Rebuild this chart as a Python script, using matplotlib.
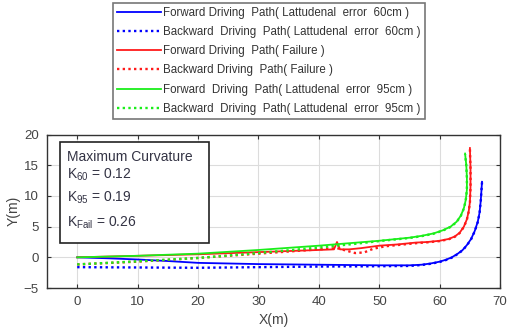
import matplotlib
matplotlib.use("Agg")
import matplotlib.pyplot as plt
import numpy as np
from matplotlib.patches import Rectangle

plt.rcParams['font.family'] = ['Liberation Sans', 'DejaVu Sans']
plt.rcParams['mathtext.fontset'] = 'custom'
plt.rcParams['mathtext.rm'] = 'Liberation Sans'
plt.rcParams['mathtext.it'] = 'Liberation Sans'

# Forward 60cm (blue solid)
bf_x = [0, 5, 10, 15, 20, 30, 40, 50, 55, 57, 58.5, 60, 61, 62, 63, 63.8, 64.5, 65.2, 65.8, 66.3, 66.6, 66.8, 67.0]
bf_y = [0, -0.15, -0.35, -0.6, -0.9, -1.1, -1.2, -1.3, -1.3, -1.2, -1.0, -0.7, -0.4, 0.0, 0.6, 1.2, 2.0, 3.0, 4.3, 5.8, 7.3, 9.3, 12.3]
# Backward 60cm (blue dotted)
bb_x = [0, 10, 20, 30, 40, 50, 55, 57, 58.5, 60, 61, 62, 63, 63.8, 64.5, 65.2, 65.8, 66.3, 66.6, 66.8, 67.0]
bb_y = [-1.6, -1.65, -1.7, -1.6, -1.5, -1.45, -1.4, -1.25, -1.05, -0.75, -0.45, -0.05, 0.55, 1.15, 1.95, 2.95, 4.25, 5.75, 7.25, 9.25, 12.2]
# Forward failure (red solid)
rf_x = [0, 10, 20, 30, 40, 42.5, 43, 43.5, 45, 47, 50, 53, 56, 58, 60, 61.5, 62.5, 63.3, 64.0, 64.5, 64.8, 65.0, 65.1, 65.1, 65.0]
rf_y = [0, 0.25, 0.5, 0.85, 1.2, 1.3, 2.5, 1.3, 1.3, 1.5, 1.9, 2.1, 2.4, 2.5, 2.7, 3.0, 3.4, 4.0, 5.0, 6.2, 7.5, 9.0, 11.5, 14.5, 17.8]
# Backward failure (red dotted)
rb_x = [0, 10, 20, 30, 40, 43, 44.5, 46, 47.5, 49, 51, 53, 56, 58, 60, 61.5, 62.5, 63.3, 64.0, 64.5, 64.8, 65.0, 65.1, 65.1, 65.0]
rb_y = [-1.15, -0.7, -0.1, 0.6, 1.3, 1.5, 1.1, 0.7, 0.8, 1.4, 1.8, 2.0, 2.3, 2.45, 2.65, 2.95, 3.35, 3.95, 4.95, 6.15, 7.45, 8.95, 11.4, 14.4, 17.6]
# Forward 95cm (green solid)
gf_x = [0, 10, 20, 30, 40, 50, 55, 57, 59, 60.5, 61.8, 62.8, 63.5, 64.0, 64.3, 64.5, 64.5, 64.4, 64.2]
gf_y = [0, 0.25, 0.6, 1.2, 1.9, 2.7, 3.2, 3.5, 3.9, 4.4, 5.0, 5.8, 6.8, 8.0, 9.3, 11.0, 13.0, 15.0, 16.9]
# Backward 95cm (green dotted)
gb_x = [0, 10, 20, 30, 40, 46, 50, 55, 57, 59, 60.5, 61.8, 62.8, 63.5, 64.0, 64.3, 64.5, 64.5, 64.4, 64.2]
gb_y = [-1.15, -0.65, -0.1, 0.7, 1.6, 2.2, 2.65, 3.15, 3.45, 3.85, 4.35, 4.95, 5.75, 6.75, 7.95, 9.25, 10.95, 12.95, 14.95, 16.8]

labels = ["Forward Driving  Path( Lattudenal  error  60cm )",
          "Backward  Driving  Path( Lattudenal  error  60cm )",
          "Forward Driving  Path( Failure )",
          "Backward Driving  Path( Failure )",
          "Forward  Driving  Path( Lattudenal  error  95cm )",
          "Backward  Driving  Path( Lattudenal  error  95cm )"]

x_ticks = [0, 10, 20, 30, 40, 50, 60, 70]
y_ticks = [-5, 0, 5, 10, 15, 20]

fig = plt.figure(figsize=(5.08, 3.33), dpi=100)
ax = fig.add_axes([0.0925, 0.135, 0.892, 0.461])

dot = (0, (1, 1.4))
blue, red, green = '#0000ff', '#ff1a1a', '#1aee1a'
h = []
h += ax.plot(bf_x, bf_y, color=blue, lw=1.3, label=labels[0])
h += ax.plot(bb_x, bb_y, color=blue, lw=1.7, ls=dot, label=labels[1])
h += ax.plot(rf_x, rf_y, color=red, lw=1.3, label=labels[2])
h += ax.plot(rb_x, rb_y, color=red, lw=1.7, ls=dot, label=labels[3])
h += ax.plot(gf_x, gf_y, color=green, lw=1.3, label=labels[4])
h += ax.plot(gb_x, gb_y, color=green, lw=1.7, ls=dot, label=labels[5])

ax.set_xlim(-5, 70)
ax.set_ylim(-5, 20)
ax.set_xticks(x_ticks)
ax.set_yticks(y_ticks)
ax.grid(True, color='#dcdcdc', lw=0.8)
ax.set_axisbelow(True)
ax.tick_params(direction='in', top=True, right=True, length=3, labelsize=9.5,
               colors='#333333', labelcolor='#444444', pad=6)
for s in ax.spines.values():
    s.set_color('#333333')
    s.set_linewidth(1.0)
ax.set_xlabel('X(m)', fontsize=10, color='#444444', labelpad=3)
ax.set_ylabel('Y(m)', fontsize=10, color='#444444', labelpad=2)

ax.add_patch(Rectangle((0.029, 0.292), 0.329, 0.659, transform=ax.transAxes,
                       fill=True, facecolor='white', edgecolor='#222222', lw=1.2, zorder=5))
tx = 0.044
fs = 10
ax.text(tx, 0.853, 'Maximum Curvature', transform=ax.transAxes, fontsize=fs,
        color='#333344', va='center', zorder=6)
ax.text(tx, 0.735, r'K$_{60}$ = 0.12', transform=ax.transAxes, fontsize=fs,
        color='#333344', va='center', zorder=6)
ax.text(tx, 0.586, r'K$_{95}$ = 0.19', transform=ax.transAxes, fontsize=fs,
        color='#333344', va='center', zorder=6)
ax.text(tx, 0.422, r'K$_{Fail}$ = 0.26', transform=ax.transAxes, fontsize=fs,
        color='#333344', va='center', zorder=6)

leg = fig.legend(handles=h, loc='upper left', bbox_to_anchor=(0.222, 0.991),
                 fontsize=8.3, frameon=True, fancybox=False, borderaxespad=0,
                 handlelength=3.8, handletextpad=0.25, labelspacing=0.62,
                 borderpad=0.35)
leg.get_frame().set_edgecolor('#555555')
leg.get_frame().set_linewidth(1.2)
for t in leg.get_texts():
    t.set_color('#333333')

fig.savefig('out.png', dpi=100)
